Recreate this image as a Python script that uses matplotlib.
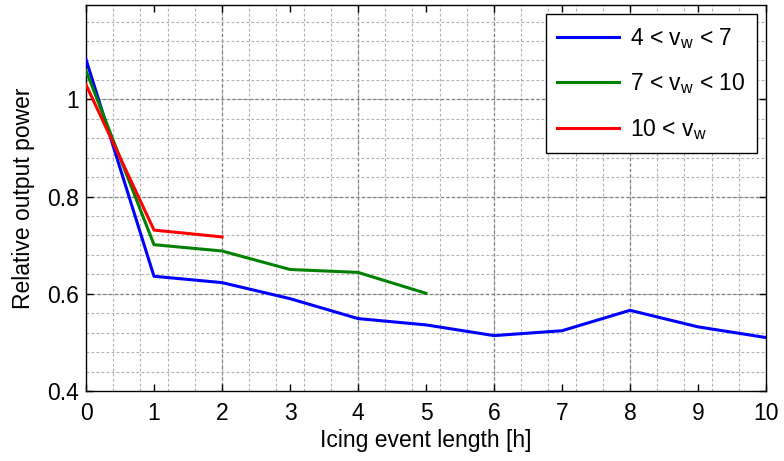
import numpy as np
import matplotlib
matplotlib.use("Agg")
import matplotlib.pyplot as plt
from matplotlib.ticker import FormatStrFormatter

# ==============================
# 1. Data
# ==============================

hours_low = [0, 1, 2, 3, 4, 5, 6, 7, 8, 9, 10]
power_low = [1.082, 0.636, 0.623, 0.590, 0.549, 0.536, 0.514, 0.524, 0.566, 0.532, 0.510]

hours_mid = [0, 1, 2, 3, 4, 5]
power_mid = [1.059, 0.701, 0.688, 0.650, 0.644, 0.601]

hours_high = [0, 1, 2]
power_high = [1.030, 0.731, 0.717]

labels = [r"4 < $\mathregular{v_w}$ < 7",
          r"7 < $\mathregular{v_w}$ < 10",
          r"10 < $\mathregular{v_w}$"]
colors = ["#0000ff", "#008000", "#ff0000"]

# ==============================
# 2. Style
# ==============================

plt.rcParams["font.family"] = ["Liberation Sans", "DejaVu Sans"]
plt.rcParams["mathtext.fontset"] = "custom"
plt.rcParams["mathtext.rm"] = "Liberation Sans"
plt.rcParams["mathtext.it"] = "Liberation Sans"
fs = 16.5

fig = plt.figure(figsize=(7.84, 4.61), dpi=100)
ax = fig.add_axes([0.1097, 0.1518, 0.8673, 0.8384])

# ==============================
# 3. Plot
# ==============================

ax.plot(hours_low, power_low, color=colors[0], lw=2.2, label=labels[0], zorder=3)
ax.plot(hours_mid, power_mid, color=colors[1], lw=2.2, label=labels[1], zorder=3)
ax.plot(hours_high, power_high, color=colors[2], lw=2.2, label=labels[2], zorder=3)

ax.set_xlim(0, 10)
ax.set_ylim(0.4, 1.195)
ax.set_xticks(np.arange(0, 11, 1))
ax.set_yticks([0.4, 0.6, 0.8, 1.0])
ax.yaxis.set_major_formatter(FormatStrFormatter("%g"))

# grid: minor dotted lines, darker major lines
dash = (0, (2.5, 2))
for gx in np.arange(0.4, 10, 0.4):
    ax.axvline(gx, color="#b0b0b0", lw=0.8, ls=dash, zorder=1)
for gx in [2, 4, 6, 8]:
    ax.axvline(gx, color="#808080", lw=0.9, ls=dash, zorder=1)
for gy in np.arange(0.44, 1.195, 0.04):
    ax.axhline(gy, color="#b0b0b0", lw=0.8, ls=dash, zorder=1)
for gy in [0.6, 0.8, 1.0]:
    ax.axhline(gy, color="#808080", lw=0.9, ls=dash, zorder=1)

ax.tick_params(direction="in", top=True, right=True, length=5, width=1,
               labelsize=fs)
ax.tick_params(axis="x", pad=8)
ax.tick_params(axis="y", pad=5)
for s in ax.spines.values():
    s.set_linewidth(1.0)

ax.set_xlabel("Icing event length [h]", fontsize=fs, labelpad=3)
ax.set_ylabel("Relative output power", fontsize=fs, labelpad=9)

leg = ax.legend(loc="upper right", bbox_to_anchor=(0.987, 0.975),
                borderaxespad=0, fontsize=fs, handlelength=2.7,
                labelspacing=0.9, fancybox=False, framealpha=1,
                edgecolor="black", borderpad=0.5, handletextpad=0.5)
leg.get_frame().set_linewidth(1.0)

fig.savefig("out.png", dpi=100)
